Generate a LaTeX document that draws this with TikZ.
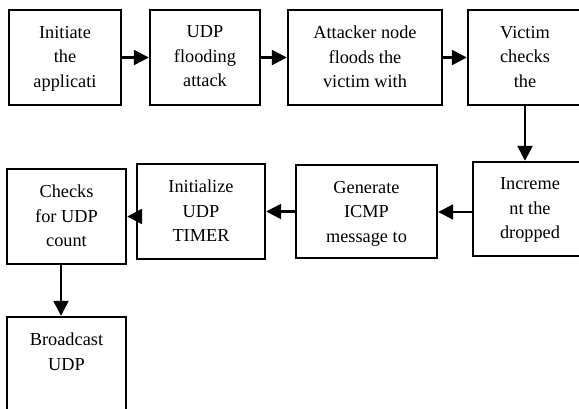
\documentclass[tikz,border=0pt]{standalone}
\usepackage{fontspec}
\setmainfont{Liberation Serif}
\usetikzlibrary{arrows.meta}
\newcommand{\bxt}[3]{\parbox[c][#2pt][t]{#1pt}{\centering\vspace*{16pt}#3\par}}
\tikzset{
  box/.style={draw, line width=2.4pt, inner sep=0pt, font=\fontsize{18.3}{24.5}\selectfont},
  arr/.style={line width=2.4pt, -{Triangle[length=15pt,width=15pt]}}
}
\begin{document}
\begin{tikzpicture}[x=1pt,y=-1pt]
\clip (0,0) rectangle (579,408);
\fill[white] (0,0) rectangle (579,408);
\node[box] (b1) at (65,57.5) {\bxt{112}{95}{Initiate\\the\\applicati}};
\node[box] (b2) at (205,57.5) {\bxt{110}{95}{UDP\\flooding\\attack}};
\node[box] (b3) at (365,57.5) {\bxt{154}{95}{Attacker node\\floods the\\victim with}};
\node[box] (b4) at (525,57.5) {\bxt{114}{95}{Victim\\checks\\the}};
\node[box] (b5) at (530,209) {\bxt{114}{94}{Increme\\nt the\\dropped}};
\node[box] (b6) at (366.5,211.5) {\bxt{141}{93}{Generate\\ICMP\\message to}};
\node[box] (b7) at (201,211.5) {\bxt{128}{95}{Initialize\\UDP\\TIMER}};
\node[box] (b8) at (66.5,216.5) {\bxt{119}{95}{Checks\\for UDP\\count}};
\node[box] (b9) at (66.5,364.5) {\bxt{119}{95}{Broadcast\\UDP}};
\coordinate (r2) at (0,212);
\draw[arr] (b1.east) -- (b2.west);
\draw[arr] (b2.east) -- (b3.west);
\draw[arr] (b3.east) -- (b4.west);
\draw[arr] (b4.south) -- (b4.south |- b5.north);
\draw[arr] (b5.west |- r2) -- (b6.east |- r2);
\draw[arr] (b6.west) -- (b7.east);
\draw[arr] (b7.west |- b8.east) -- (b8.east);
\draw[arr] ([xshift=-5.5pt]b8.south) -- ([xshift=-5.5pt]b9.north);
\end{tikzpicture}
\end{document}
